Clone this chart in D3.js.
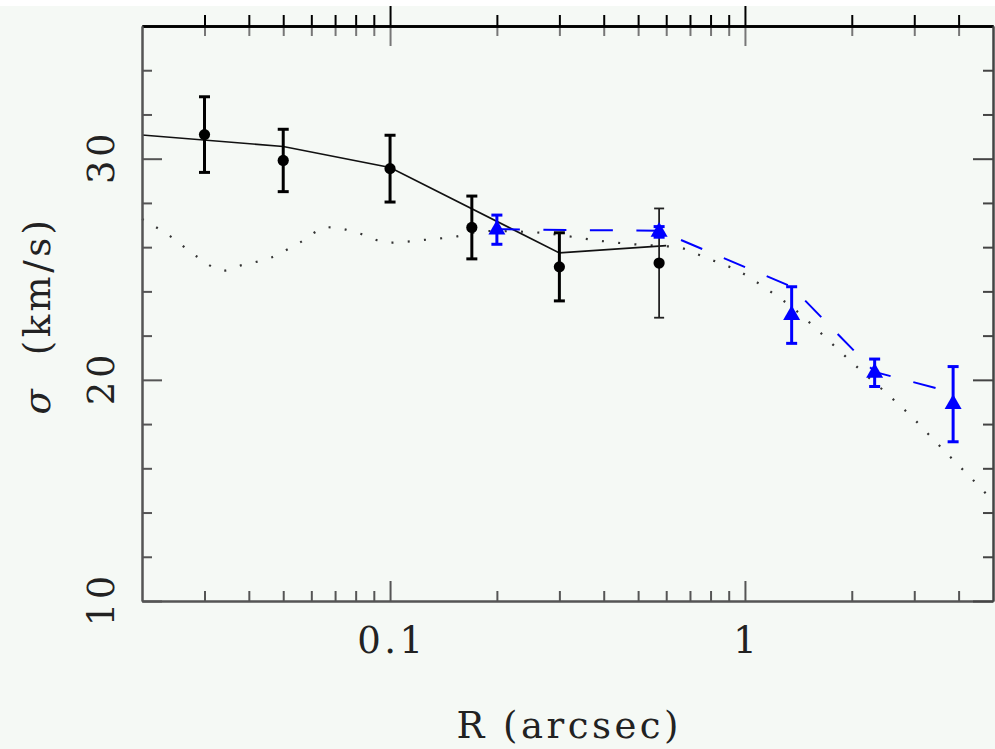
<!DOCTYPE html>
<html>
<head>
<meta charset="utf-8">
<script src="https://cdn.jsdelivr.net/npm/d3@7"></script>
<style>
  html, body { margin: 0; padding: 0; background: #f5f9f5; }
  svg { display: block; }
</style>
</head>
<body>
<svg id="chart" width="995" height="749"></svg>
<script>
// Inner kinematics: velocity dispersion against projected radius

// High-resolution measurements (filled circles)
const radiusA = [0.03, 0.05, 0.1, 0.17, 0.3];
const sigmaA  = [31.09, 29.92, 29.55, 26.89, 25.11];
const errA    = [1.71, 1.41, 1.51, 1.42, 1.54];

// Outermost high-resolution point, lower signal
const radiusA2 = [0.573];
const sigmaA2  = [25.28];
const errA2    = [2.47];

// Ground-based measurements (blue triangles)
const radiusB = [0.2, 0.573, 1.354, 2.32, 3.86];
const sigmaB  = [26.79, 26.69, 22.93, 20.32, 18.90];
const errB    = [0.66, 0.24, 1.28, 0.62, 1.70];

// Model fitted to the circles (solid)
const modelAR     = [0.02, 0.05, 0.1, 0.3, 0.6];
const modelASigma = [31.07, 30.55, 29.60, 25.74, 26.07];

// Model fitted to the triangles (dashed)
const modelBR     = [0.2, 0.573, 1.354, 2.32, 3.86];
const modelBSigma = [26.81, 26.74, 24.21, 20.36, 19.42];

// Reference model profile (dotted)
const modelCR = [0.02, 0.0240, 0.0284, 0.0340, 0.0375, 0.0460, 0.0556, 0.0668, 0.0737, 0.0816,
                 0.0991, 0.123, 0.152, 0.1875, 0.256, 0.315, 0.389, 0.479, 0.587, 0.656,
                 0.723, 0.797, 0.968, 1.156, 1.368, 1.603, 1.864, 2.178, 2.551, 2.98,
                 3.446, 3.99, 4.624, 5.0];
const modelCSigma = [27.27, 26.50, 25.60, 24.94, 25.15, 25.52, 26.20, 26.90, 26.82, 26.63,
                     26.20, 26.32, 26.47, 26.73, 26.67, 26.50, 26.29, 26.14, 26.05, 25.98,
                     25.72, 25.45, 24.89, 24.09, 23.24, 22.25, 21.25, 20.26, 19.28, 18.26,
                     17.20, 16.15, 15.10, 14.51];

const xTickLabels = [0.1, 1];
const yTickLabels = [10, 20, 30];
const yMinorTicks = [12, 14, 16, 18, 22, 24, 26, 28, 32, 34];

const xTitle = "R (arcsec)";
const yTitleSymbol = "σ";
const yTitleUnit = "  (km/s)";

const plotLeft = 142, plotRight = 993, plotTop = 26, plotBottom = 601;
const FONT = "'DejaVu Serif', 'Liberation Serif', serif";
const FS = 37, LS = 3.5;

const svg = d3.select("#chart");
svg.append("rect").attr("width", 995).attr("height", 749).attr("fill", "#f5f9f5");
svg.append("rect").attr("width", 995).attr("height", 6).attr("fill", "#ffffff");

const x = d3.scaleLog().domain([0.02, 5]).range([plotLeft, plotRight]);
const y = d3.scaleLinear().domain([10, 36]).range([plotBottom, plotTop]);

const xMinor = x.ticks().filter(v => !xTickLabels.some(m => Math.abs(m - v) < 1e-9) && v > 0.0201 && v < 4.99);

// ---- model curves ----
const line = d3.line().x(d => x(d[0])).y(d => y(d[1]));

svg.append("path")
  .datum(d3.zip(modelCR, modelCSigma))
  .attr("d", line.curve(d3.curveMonotoneX))
  .attr("fill", "none").attr("stroke", "#333").attr("stroke-width", 2.2)
  .attr("stroke-dasharray", "2 14.3");

svg.append("path")
  .datum(d3.zip(modelAR, modelASigma))
  .attr("d", line.curve(d3.curveLinear))
  .attr("fill", "none").attr("stroke", "#111").attr("stroke-width", 1.6);

svg.append("path")
  .datum(d3.zip(modelBR, modelBSigma))
  .attr("d", line.curve(d3.curveLinear))
  .attr("fill", "none").attr("stroke", "#0000ff").attr("stroke-width", 2)
  .attr("stroke-dasharray", "23 23.5");

// ---- error bars ----
function errorBars(rs, ss, es, color, width, cap) {
  const g = svg.append("g").attr("stroke", color).attr("stroke-width", width).attr("fill", "none");
  rs.forEach((r, i) => {
    const cx = x(r), y0 = y(ss[i] - es[i]), y1 = y(ss[i] + es[i]);
    g.append("line").attr("x1", cx).attr("x2", cx).attr("y1", y0).attr("y2", y1);
    g.append("line").attr("x1", cx - cap).attr("x2", cx + cap).attr("y1", y0).attr("y2", y0);
    g.append("line").attr("x1", cx - cap).attr("x2", cx + cap).attr("y1", y1).attr("y2", y1);
  });
}
errorBars(radiusA, sigmaA, errA, "#000", 3, 5.5);
errorBars(radiusA2, sigmaA2, errA2, "#222", 1.8, 5);
errorBars(radiusB, sigmaB, errB, "#0000ff", 3, 5.5);

// ---- markers ----
svg.append("g").selectAll("circle")
  .data(d3.zip(radiusA.concat(radiusA2), sigmaA.concat(sigmaA2)))
  .join("circle")
  .attr("cx", d => x(d[0])).attr("cy", d => y(d[1])).attr("r", 5.6).attr("fill", "#000");

const tri = d3.symbol().type(d3.symbolTriangle).size(125);
svg.append("g").selectAll("path")
  .data(d3.zip(radiusB, sigmaB))
  .join("path")
  .attr("d", tri)
  .attr("transform", d => `translate(${x(d[0])},${y(d[1])})`)
  .attr("fill", "#0000ff");

// ---- axes ----
function styleAxis(g, color, width) {
  g.selectAll(".domain").attr("stroke", color).attr("stroke-width", width);
  g.selectAll(".tick line").attr("stroke", color).attr("stroke-width", 2);
  g.selectAll(".tick text").remove();
}

// bottom
const gB1 = svg.append("g").attr("transform", `translate(0,${plotBottom})`)
  .call(d3.axisBottom(x).tickValues(xMinor).tickSize(-10).tickSizeOuter(0));
styleAxis(gB1, "#555", 2);
const gB2 = svg.append("g").attr("transform", `translate(0,${plotBottom})`)
  .call(d3.axisBottom(x).tickValues(xTickLabels).tickSize(-20).tickSizeOuter(0));
styleAxis(gB2, "#555", 2);

// top: inward grey ticks, outward black ticks
const gT1 = svg.append("g").attr("transform", `translate(0,${plotTop})`)
  .call(d3.axisTop(x).tickValues(xMinor).tickSize(-10).tickSizeOuter(0));
styleAxis(gT1, "#777", 2);
const gT2 = svg.append("g").attr("transform", `translate(0,${plotTop})`)
  .call(d3.axisTop(x).tickValues(xTickLabels).tickSize(-20).tickSizeOuter(0));
styleAxis(gT2, "#777", 2);
const gT3 = svg.append("g").attr("transform", `translate(0,${plotTop})`)
  .call(d3.axisTop(x).tickValues(xMinor).tickSize(11).tickSizeOuter(0));
styleAxis(gT3, "#000", 2.6);
const gT4 = svg.append("g").attr("transform", `translate(0,${plotTop})`)
  .call(d3.axisTop(x).tickValues(xTickLabels).tickSize(20).tickSizeOuter(0));
styleAxis(gT4, "#000", 2.6);

// left
const gL1 = svg.append("g").attr("transform", `translate(${plotLeft},0)`)
  .call(d3.axisLeft(y).tickValues(yMinorTicks).tickSize(-10).tickSizeOuter(0));
styleAxis(gL1, "#555", 2);
const gL2 = svg.append("g").attr("transform", `translate(${plotLeft},0)`)
  .call(d3.axisLeft(y).tickValues(yTickLabels).tickSize(-20).tickSizeOuter(0));
styleAxis(gL2, "#555", 2);

// right
const gR1 = svg.append("g").attr("transform", `translate(${plotRight},0)`)
  .call(d3.axisRight(y).tickValues(yMinorTicks).tickSize(-10).tickSizeOuter(0));
styleAxis(gR1, "#444", 2);
const gR2 = svg.append("g").attr("transform", `translate(${plotRight},0)`)
  .call(d3.axisRight(y).tickValues(yTickLabels).tickSize(-20).tickSizeOuter(0));
styleAxis(gR2, "#444", 2);

// ---- labels ----
const textStyle = sel => sel
  .attr("font-family", FONT).attr("font-size", FS)
  .attr("letter-spacing", LS).attr("fill", "#222").attr("text-anchor", "middle")
  .style("white-space", "pre");

svg.append("g").selectAll("text")
  .data(xTickLabels)
  .join("text")
  .call(textStyle)
  .attr("x", d => x(d) + LS / 2).attr("y", 653)
  .text(d => d3.format("~g")(d));

svg.append("g").selectAll("text")
  .data(yTickLabels)
  .join("text")
  .call(textStyle)
  .attr("transform", d => `translate(114,${y(d) - LS / 2}) rotate(-90)`)
  .text(d => d);

svg.append("text")
  .call(textStyle)
  .attr("x", (plotLeft + plotRight) / 2 + LS / 2).attr("y", 738)
  .text(xTitle);

const yt = svg.append("text")
  .call(textStyle)
  .attr("transform", `translate(50,${(plotTop + plotBottom) / 2 + 2}) rotate(-90)`);
yt.append("tspan").attr("font-style", "italic").text(yTitleSymbol);
yt.append("tspan").text(yTitleUnit);
</script>
</body>
</html>
